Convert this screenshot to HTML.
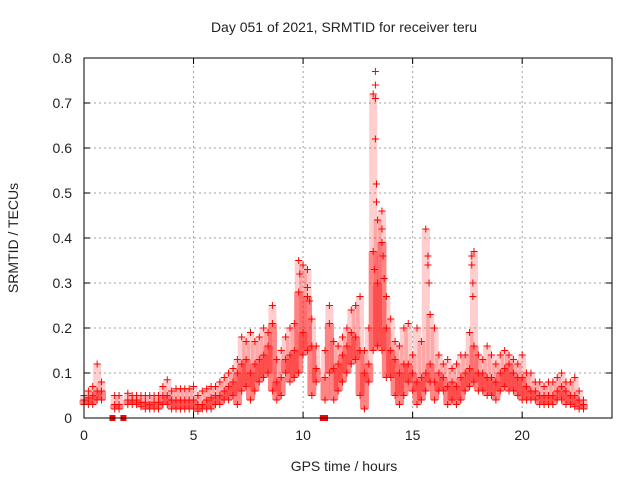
<!DOCTYPE html>
<html><head><meta charset="utf-8"><style>
body{margin:0;background:#fff}
svg{display:block;font-family:"Liberation Sans",sans-serif}
</style></head><body>
<svg id="chart" width="640" height="480" viewBox="0 0 640 480">
<rect width="640" height="480" fill="#fff"/>
<text x="344" y="32" font-size="14" text-anchor="middle" fill="#222">Day 051 of 2021, SRMTID for receiver teru</text>
<text transform="translate(18,238) rotate(-90)" font-size="14" text-anchor="middle" fill="#222">SRMTID / TECUs</text>
<text x="344" y="471" font-size="14" text-anchor="middle" fill="#222">GPS time / hours</text>
<g id="grid"></g>
<g id="marks"></g>
<rect x="84" y="58" width="528" height="360" fill="none" stroke="#000" stroke-width="1"/>
<g id="ticks"></g>
</svg>
<script>
const xTicks=[0,5,10,15,20];
const yTicks=[0,0.1,0.2,0.3,0.4,0.5,0.6,0.7,0.8];
const yTickLabels=["0","0.1","0.2","0.3","0.4","0.5","0.6","0.7","0.8"];
const times=[0,0.2,0.4,0.6,0.8,1.4,1.6,2.0,2.2,2.4,2.6,2.8,3.0,3.2,3.4,3.6,3.8,4.0,4.2,4.4,4.6,4.8,5.0,5.2,5.4,5.6,5.8,6.0,6.2,6.4,6.6,6.8,7.0,7.2,7.4,7.6,7.8,8.0,8.2,8.4,8.6,8.8,9.0,9.2,9.4,9.6,9.8,10.0,10.2,10.4,10.6,11.0,11.2,11.4,11.6,11.8,12.0,12.2,12.4,12.6,12.8,13.0,13.2,13.4,13.6,13.8,14.0,14.2,14.4,14.6,14.8,15.0,15.2,15.4,15.6,15.8,16.0,16.2,16.4,16.6,16.8,17.0,17.2,17.4,17.6,17.8,18.0,18.2,18.4,18.6,18.8,19.0,19.2,19.4,19.6,19.8,20.0,20.2,20.4,20.6,20.8,21.0,21.2,21.4,21.6,21.8,22.0,22.2,22.4,22.6,22.8];
const lowVals=[.03,.03,.03,.04,.04,.02,.02,.03,.03,.03,.025,.02,.02,.02,.02,.03,.03,.02,.02,.02,.02,.02,.02,.015,.02,.02,.02,.03,.03,.04,.04,.05,.03,.06,.07,.04,.06,.08,.09,.1,.06,.04,.05,.1,.08,.09,.1,.14,.15,.05,.08,.04,.1,.04,.06,.08,.1,.12,.13,.05,.02,.08,.15,.16,.15,.09,.09,.05,.03,.05,.08,.06,.03,.04,.06,.08,.04,.06,.06,.03,.04,.03,.04,.06,.07,.08,.06,.06,.05,.05,.04,.06,.07,.06,.06,.05,.04,.04,.04,.04,.03,.03,.03,.03,.04,.04,.03,.03,.025,.02,.02];
const midVals=[.04,.045,.05,.06,.06,.03,.03,.04,.04,.04,.035,.035,.03,.035,.035,.05,.05,.04,.04,.04,.04,.04,.04,.03,.03,.04,.045,.05,.05,.06,.07,.08,.1,.12,.13,.1,.12,.13,.14,.16,.21,.08,.09,.13,.14,.15,.28,.19,.27,.16,.11,.09,.21,.11,.12,.14,.16,.19,.18,.15,.1,.12,.37,.3,.39,.2,.15,.13,.1,.12,.12,.1,.08,.09,.1,.12,.08,.1,.09,.07,.08,.07,.09,.1,.11,.16,.1,.1,.09,.09,.08,.1,.11,.12,.1,.09,.09,.07,.06,.06,.05,.05,.05,.05,.06,.07,.06,.05,.05,.04,.03];
const highVals=[.05,.06,.07,.12,.08,.05,.05,.055,.05,.05,.05,.05,.05,.05,.05,.07,.085,.06,.065,.065,.065,.065,.07,.05,.06,.065,.07,.07,.08,.09,.1,.11,.13,.18,.17,.19,.17,.18,.2,.19,.25,.13,.15,.18,.2,.21,.35,.34,.33,.22,.16,.15,.25,.17,.16,.18,.2,.24,.25,.27,.15,.2,.72,.44,.46,.27,.22,.17,.16,.2,.21,.14,.2,.17,.42,.23,.2,.14,.12,.13,.11,.12,.14,.14,.19,.37,.14,.13,.16,.14,.12,.14,.15,.14,.13,.12,.14,.1,.1,.08,.08,.07,.08,.08,.09,.1,.08,.08,.09,.06,.04];
const spikeTimes=[13.3,13.3,13.3,13.3,13.35,13.35,15.7,15.7,15.75,17.7,17.7,17.75,17.75,9.85,10.2,10.3,13.6,13.65,13.7,13.25];
const spikeVals=[.77,.74,.71,.62,.52,.48,.36,.34,.3,.36,.34,.3,.27,.32,.29,.26,.42,.36,.31,.33];
const zeroTimes=[1.3,1.8,10.9,11.0];
const zeroVals=[0,0,0,0];

const X0=84,X1=612,Y0=418,Y1=58,XMAX=24.1,YMAX=0.8;
const sx=t=>X0+(X1-X0)*t/XMAX;
const sy=v=>Y0-(Y0-Y1)*v/YMAX;
const NS='http://www.w3.org/2000/svg';
const grid=document.getElementById('grid'),marks=document.getElementById('marks'),ticks=document.getElementById('ticks');
function mk(tag,attrs,parent){const e=document.createElementNS(NS,tag);for(const k in attrs)e.setAttribute(k,attrs[k]);parent.appendChild(e);return e;}

xTicks.forEach((t,i)=>{
  const x=sx(t);
  if(t>0){const g=mk('line',{x1:x,y1:Y0,x2:x,y2:Y1,stroke:'#a0a0a0','stroke-dasharray':'2,3'},grid);
  
  }
  const tk=mk('path',{d:`M${x},${Y0}v-6M${x},${Y1}v6`,stroke:'#000'},ticks);
  
  
  const l=mk('text',{x:x,y:Y0+22,'font-size':14,'text-anchor':'middle',fill:'#222'},ticks);
  l.textContent=String(t);
  
  
});
yTicks.forEach((v,i)=>{
  const y=sy(v);
  if(v>0&&v<YMAX){const g=mk('line',{x1:X0,y1:y,x2:X1,y2:y,stroke:'#a0a0a0','stroke-dasharray':'2,3'},grid);
  
  }
  const tk=mk('path',{d:`M${X0},${y}h6M${X1},${y}h-6`,stroke:'#000'},ticks);
  
  
  const l=mk('text',{x:X0-12,y:y+5,'font-size':14,'text-anchor':'end',fill:'#222'},ticks);
  l.textContent=yTickLabels[i];
  
  
});
function plus(t,v,color){
  const x=sx(t),y=sy(v);
  const p=mk('path',{d:`M${x-3.5},${y}h7M${x},${y-3.5}v7`,stroke:color,'stroke-width':1},marks);
  
  
}
times.forEach((t,i)=>{
  const x=sx(t);
  const top=sy(midVals[i]),bot=sy(lowVals[i]),hi=sy(highVals[i]);
  const up=mk('rect',{x:x-4,y:hi,width:8,height:Math.max(1,top-hi),fill:'#ff2020',opacity:0.22},marks);
  
  
  const band=mk('rect',{x:x-4.5,y:top,width:9,height:Math.max(1,bot-top),fill:'#ff2020',opacity:0.55},marks);
  
  
  plus(t,lowVals[i],'#f00');
  plus(t,midVals[i],'#f00');
  plus(t,highVals[i],'#f00');
});
spikeTimes.forEach((t,i)=>plus(t,spikeVals[i],'#f00'));
zeroTimes.forEach((t,i)=>{
  const r=mk('rect',{x:sx(t)-3,y:sy(zeroVals[i])-3,width:6,height:6,fill:'#f00'},marks);
  
  
});
</script>
</body></html>
